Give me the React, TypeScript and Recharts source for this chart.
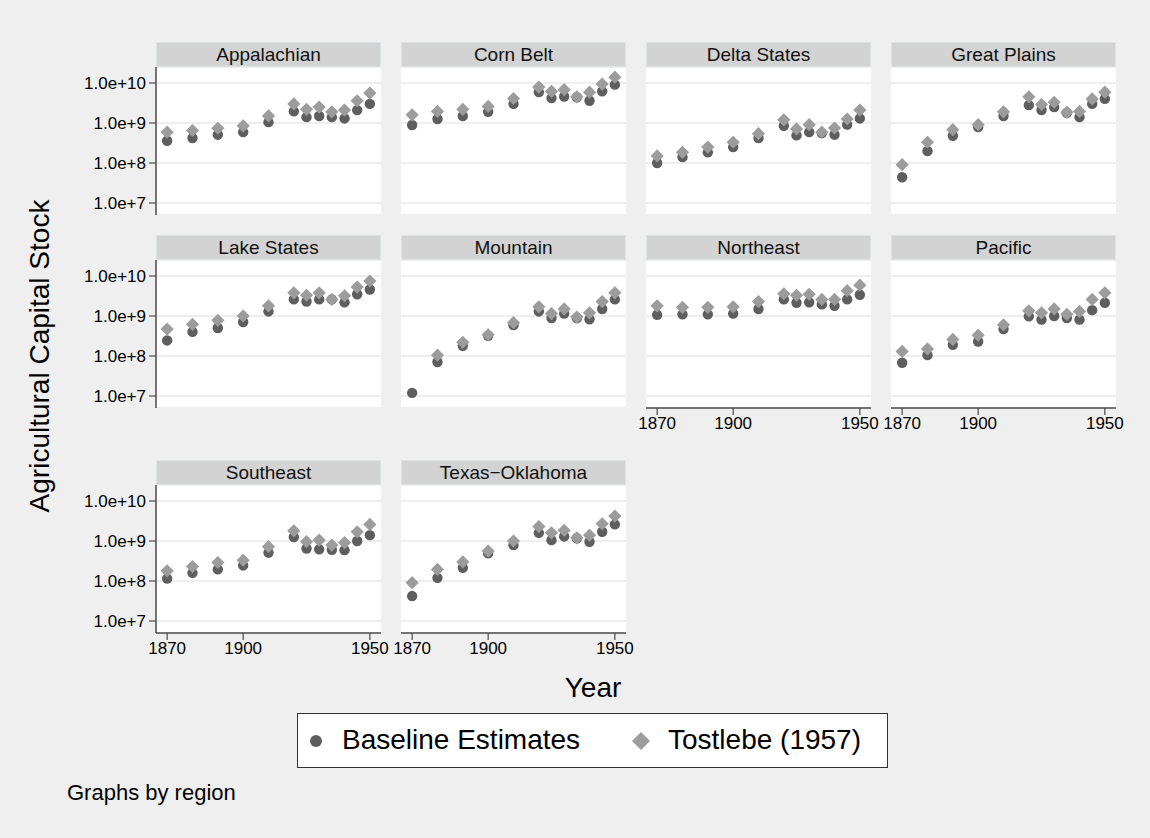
import React from 'react';
import { ScatterChart, Scatter, XAxis, YAxis, CartesianGrid } from 'recharts';

// small multiples, log capital stock by region

const years = [1870, 1880, 1890, 1900, 1910, 1920, 1925, 1930, 1935, 1940, 1945, 1950];
const xTicks = [1870, 1900, 1950];
const yTicks = [1e7, 1e8, 1e9, 1e10];

const appalachianBase = [3.6e8, 4.2e8, 5.1e8, 5.9e8, 1.05e9, 1.95e9, 1.4e9, 1.5e9, 1.4e9, 1.3e9, 2.1e9, 3.0e9];
const appalachianTost = [5.9e8, 6.5e8, 7.4e8, 8.5e8, 1.5e9, 3.0e9, 2.2e9, 2.5e9, 1.9e9, 2.1e9, 3.6e9, 5.6e9];
const cornBeltBase = [8.9e8, 1.26e9, 1.5e9, 1.9e9, 3.0e9, 5.9e9, 4.2e9, 4.6e9, 4.4e9, 3.6e9, 6.2e9, 9.1e9];
const cornBeltTost = [1.6e9, 1.95e9, 2.2e9, 2.6e9, 4.1e9, 7.9e9, 6.2e9, 6.8e9, 4.5e9, 5.9e9, 9.4e9, 1.4e10];
const deltaBase = [1.0e8, 1.4e8, 1.85e8, 2.5e8, 4.2e8, 8.5e8, 4.9e8, 5.9e8, 5.6e8, 5.1e8, 9.1e8, 1.3e9];
const deltaTost = [1.5e8, 1.85e8, 2.5e8, 3.3e8, 5.4e8, 1.2e9, 7.1e8, 9.1e8, 5.9e8, 7.5e8, 1.26e9, 2.1e9];
const plainsBase = [4.4e7, 2.0e8, 4.8e8, 7.9e8, 1.5e9, 2.8e9, 2.1e9, 2.5e9, 1.8e9, 1.4e9, 3.0e9, 4.0e9];
const plainsTost = [9.1e7, 3.3e8, 6.8e8, 9.1e8, 1.9e9, 4.5e9, 2.9e9, 3.3e9, 1.85e9, 1.95e9, 4.0e9, 5.9e9];
const lakeBase = [2.45e8, 4.0e8, 5.0e8, 7.1e8, 1.3e9, 2.6e9, 2.3e9, 2.6e9, 2.6e9, 2.2e9, 3.5e9, 4.6e9];
const lakeTost = [4.7e8, 6.2e8, 7.8e8, 1.0e9, 1.8e9, 3.8e9, 3.3e9, 3.8e9, 2.6e9, 3.2e9, 5.3e9, 7.5e9];
const mountainBase = [1.2e7, 7.1e7, 1.8e8, 3.2e8, 5.9e8, 1.3e9, 8.9e8, 1.15e9, 8.9e8, 8.3e8, 1.5e9, 2.6e9];
const mountainTost = [null, 1.05e8, 2.2e8, 3.4e8, 6.8e8, 1.7e9, 1.15e9, 1.5e9, 9.4e8, 1.2e9, 2.3e9, 3.8e9];
const northeastBase = [1.07e9, 1.1e9, 1.1e9, 1.15e9, 1.5e9, 2.6e9, 2.15e9, 2.2e9, 1.95e9, 1.8e9, 2.6e9, 3.4e9];
const northeastTost = [1.8e9, 1.65e9, 1.65e9, 1.7e9, 2.3e9, 3.6e9, 3.3e9, 3.5e9, 2.6e9, 2.6e9, 4.3e9, 5.9e9];
const pacificBase = [6.8e7, 1.05e8, 1.9e8, 2.3e8, 4.7e8, 9.8e8, 8.1e8, 1.0e9, 8.9e8, 8.1e8, 1.4e9, 2.15e9];
const pacificTost = [1.3e8, 1.5e8, 2.6e8, 3.3e8, 6.0e8, 1.35e9, 1.2e9, 1.5e9, 1.1e9, 1.3e9, 2.6e9, 3.8e9];
const southeastBase = [1.15e8, 1.6e8, 1.95e8, 2.45e8, 5.1e8, 1.26e9, 6.5e8, 6.2e8, 6.0e8, 5.9e8, 1.0e9, 1.4e9];
const southeastTost = [1.8e8, 2.3e8, 2.9e8, 3.3e8, 7.2e8, 1.8e9, 9.6e8, 1.05e9, 7.9e8, 9.1e8, 1.7e9, 2.6e9];
const texasBase = [4.2e7, 1.2e8, 2.15e8, 4.9e8, 7.9e8, 1.6e9, 1.05e9, 1.3e9, 1.17e9, 9.6e8, 1.7e9, 2.6e9];
const texasTost = [9.1e7, 1.95e8, 3.0e8, 5.6e8, 1.0e9, 2.3e9, 1.6e9, 1.85e9, 1.2e9, 1.4e9, 2.7e9, 4.2e9];

const FONT = '"Liberation Sans", Arial, Helvetica, sans-serif';
const PLOT_W = 225;
const PLOT_H = 148;
const HEADER_H = 25;
const PAD = 30;
const COL_LEFT = [156, 401, 646, 891];
const ROW_TOP = [42, 235, 460];
const BASE_COLOR = '#5e5e5e';
const TOST_COLOR = '#9c9c9c';
const AXIS_COLOR = '#4a4a4a';

const fmtY = (v: number) => v.toExponential(1);

const circleShape = (p: any) => <circle cx={p.cx} cy={p.cy} r={5.2} fill={BASE_COLOR} />;
const diamondShape = (p: any) => {
  const s = 6.6;
  return (
    <polygon
      points={`${p.cx},${p.cy - s} ${p.cx + s},${p.cy} ${p.cx},${p.cy + s} ${p.cx - s},${p.cy}`}
      fill={TOST_COLOR}
    />
  );
};

interface PanelProps {
  title: string;
  base: (number | null)[];
  tost: (number | null)[];
  col: number;
  row: number;
  showY: boolean;
  showX: boolean;
}

const Panel: React.FC<PanelProps> = ({ title, base, tost, col, row, showY, showX }) => {
  const left = COL_LEFT[col];
  const top = ROW_TOP[row];
  const yW = showY ? 80 : 0;
  const padL = showY ? 0 : PAD;
  const xH = showX ? 34 : 0;
  const baseData = years.map((y, i) => ({ year: y, v: base[i] })).filter((d) => d.v != null);
  const tostData = years.map((y, i) => ({ year: y, v: tost[i] })).filter((d) => d.v != null);

  return (
    <>
      <div
        style={{
          position: 'absolute',
          left,
          top,
          width: PLOT_W,
          height: HEADER_H,
          boxSizing: 'border-box',
          background: '#d3d3d3',
          border: '1px solid #dde2e4',
          fontSize: 19,
          lineHeight: `${HEADER_H - 2}px`,
          textAlign: 'center',
          color: '#111',
        }}
      >
        {title}
      </div>
      <div style={{ position: 'absolute', left: left - yW - padL, top: top + HEADER_H }}>
        <ScatterChart
          width={PLOT_W + yW + padL + PAD}
          height={PLOT_H + xH}
          margin={{ top: 0, right: PAD, bottom: 0, left: padL }}
        >
          <CartesianGrid vertical={false} stroke="#e8e8e8" strokeWidth={1.5} fill="#ffffff" />
          <XAxis
            type="number"
            dataKey="year"
            domain={[1865.6, 1954.4]}
            allowDataOverflow
            ticks={xTicks}
            interval={0}
            hide={!showX}
            height={xH}
            tickSize={7}
            tickMargin={2}
            axisLine={{ stroke: AXIS_COLOR, strokeWidth: 1.5 }}
            tickLine={{ stroke: AXIS_COLOR, strokeWidth: 1.2 }}
            tick={{ fill: '#000', fontSize: 17, fontFamily: FONT }}
          />
          <YAxis
            type="number"
            dataKey="v"
            scale="log"
            domain={[10 ** 6.7, 10 ** 10.4]}
            allowDataOverflow
            ticks={yTicks}
            interval={0}
            tickFormatter={fmtY}
            hide={!showY}
            width={yW}
            tickSize={7}
            tickMargin={3}
            axisLine={{ stroke: AXIS_COLOR, strokeWidth: 1.5 }}
            tickLine={{ stroke: AXIS_COLOR, strokeWidth: 1.2 }}
            tick={{ fill: '#000', fontSize: 17, fontFamily: FONT }}
          />
          <Scatter name="Baseline Estimates" data={baseData} shape={circleShape} isAnimationActive={false} />
          <Scatter name="Tostlebe (1957)" data={tostData} shape={diamondShape} isAnimationActive={false} />
        </ScatterChart>
      </div>
    </>
  );
};

export default function App() {
  return (
    <div
      style={{
        position: 'absolute',
        left: 0,
        top: 0,
        width: 1150,
        height: 838,
        background: '#efefef',
        fontFamily: FONT,
        overflow: 'hidden',
      }}
    >
      <Panel title="Appalachian" base={appalachianBase} tost={appalachianTost} col={0} row={0} showY showX={false} />
      <Panel title="Corn Belt" base={cornBeltBase} tost={cornBeltTost} col={1} row={0} showY={false} showX={false} />
      <Panel title="Delta States" base={deltaBase} tost={deltaTost} col={2} row={0} showY={false} showX={false} />
      <Panel title="Great Plains" base={plainsBase} tost={plainsTost} col={3} row={0} showY={false} showX={false} />
      <Panel title="Lake States" base={lakeBase} tost={lakeTost} col={0} row={1} showY showX={false} />
      <Panel title="Mountain" base={mountainBase} tost={mountainTost} col={1} row={1} showY={false} showX={false} />
      <Panel title="Northeast" base={northeastBase} tost={northeastTost} col={2} row={1} showY={false} showX />
      <Panel title="Pacific" base={pacificBase} tost={pacificTost} col={3} row={1} showY={false} showX />
      <Panel title="Southeast" base={southeastBase} tost={southeastTost} col={0} row={2} showY showX />
      <Panel title="Texas−Oklahoma" base={texasBase} tost={texasTost} col={1} row={2} showY={false} showX />

      <div
        style={{
          position: 'absolute',
          left: 40,
          top: 356,
          transform: 'translate(-50%, -50%) rotate(-90deg)',
          whiteSpace: 'nowrap',
          fontSize: 28,
          color: '#000',
        }}
      >
        Agricultural Capital Stock
      </div>
      <div
        style={{
          position: 'absolute',
          left: 593,
          top: 688,
          transform: 'translate(-50%, -50%)',
          fontSize: 28,
          color: '#000',
        }}
      >
        Year
      </div>

      <div
        style={{
          position: 'absolute',
          left: 297,
          top: 713,
          width: 591,
          height: 55,
          boxSizing: 'border-box',
          background: '#fff',
          border: '1.5px solid #333',
        }}
      >
        <svg style={{ position: 'absolute', left: 8, top: 17 }} width={20} height={20}>
          <circle cx={10} cy={10} r={6} fill={BASE_COLOR} />
        </svg>
        <div style={{ position: 'absolute', left: 44, top: 0, lineHeight: '52px', fontSize: 28 }}>
          Baseline Estimates
        </div>
        <svg style={{ position: 'absolute', left: 333, top: 17 }} width={20} height={20}>
          <polygon points="10,1 19,10 10,19 1,10" fill={TOST_COLOR} />
        </svg>
        <div style={{ position: 'absolute', left: 370, top: 0, lineHeight: '52px', fontSize: 28 }}>
          Tostlebe (1957)
        </div>
      </div>

      <div style={{ position: 'absolute', left: 67, top: 780, fontSize: 22, color: '#000' }}>
        Graphs by region
      </div>
    </div>
  );
}
